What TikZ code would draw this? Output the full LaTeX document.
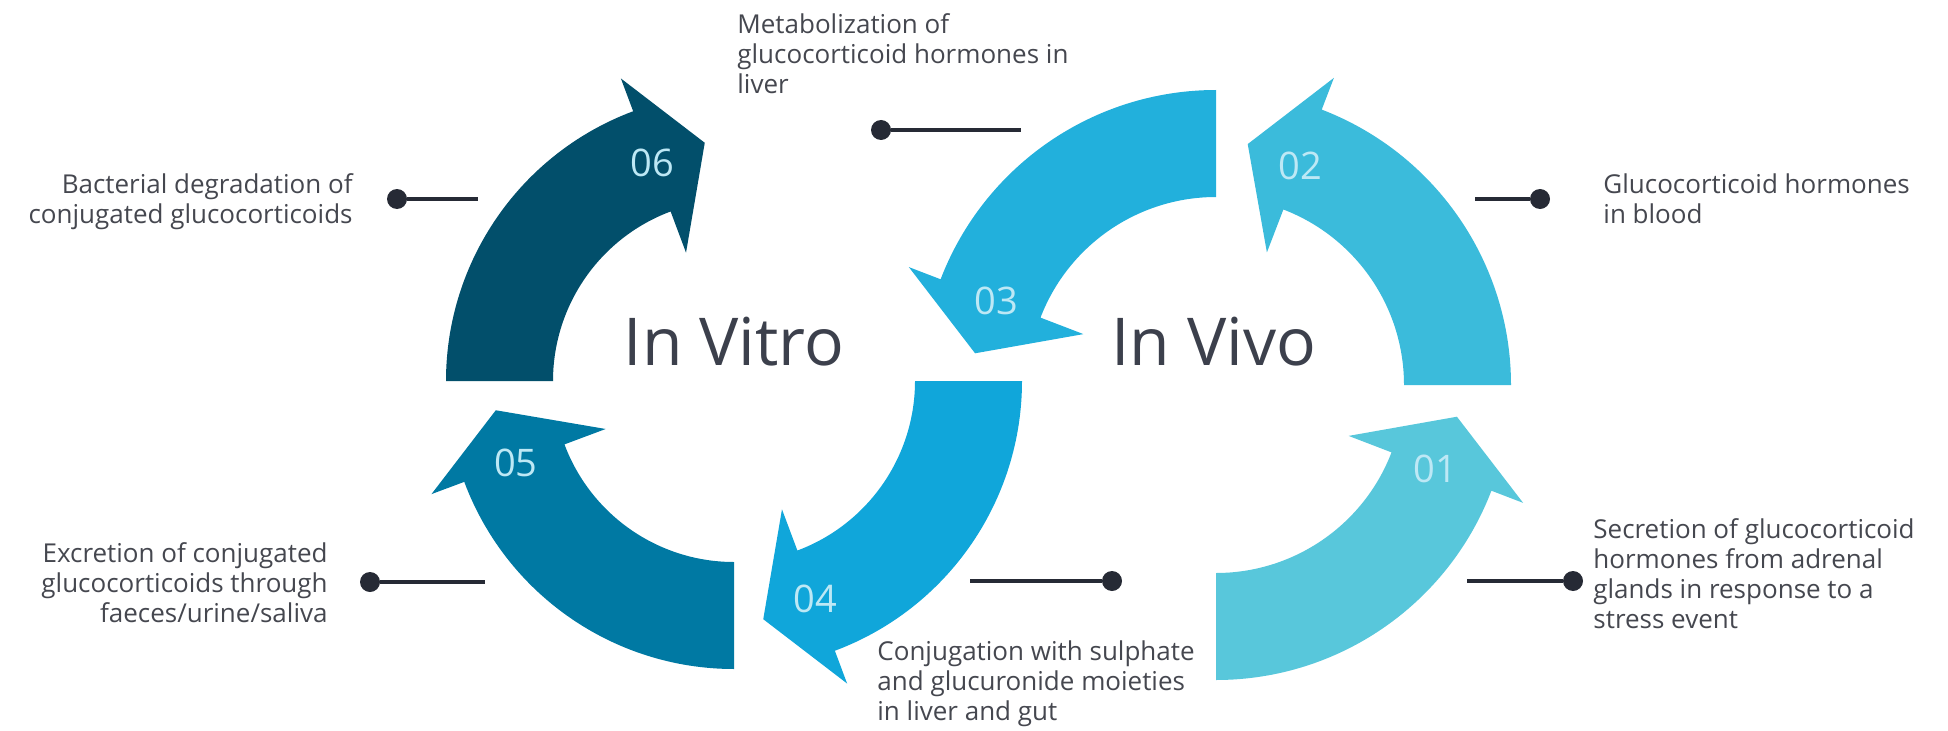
\documentclass[tikz,border=0pt]{standalone}
\usepackage{fontspec}
\setmainfont{Open Sans}

\definecolor{vitrosix}{HTML}{024F6B}
\definecolor{vitrofive}{HTML}{0079A3}
\definecolor{vitrofour}{HTML}{10A6DA}
\definecolor{vivothree}{HTML}{22B0DC}
\definecolor{vivotwo}{HTML}{3BBBDB}
\definecolor{vivoone}{HTML}{58C7DB}
\definecolor{numblue}{HTML}{BDE8F5}
\definecolor{titlegray}{HTML}{3C404C}
\definecolor{textgray}{HTML}{45474F}
\definecolor{dotgray}{HTML}{262A35}

\tikzset{
	numlabel/.style = {text = numblue, font = \fontsize{19}{19}\selectfont},
	bigtitle/.style = {text = titlegray, font = \fontsize{33}{40}\selectfont},
	caption/.style = {text = textgray, font = \fontsize{13}{15}\selectfont, inner sep = 0pt},
	knob/.style = {circle, fill = dotgray, inner sep = 0pt, minimum size = 10pt},
	stem/.style = {draw = dotgray, line width = 1.6pt}
}

\begin{document}
\begin{tikzpicture}[x = 0.5pt, y = 0.5pt]

	% Frame

	\useasboundingbox (0, 0) rectangle (1948, 730);

	% In Vitro cycle (clockwise)

	\begin{scope}[shift = {(734, 349)}]
		\foreach \aStart/\col/\lbl in {180/vitrosix/06, 270/vitrofive/05, 0/vitrofour/04}
		{
			\pgfmathsetmacro{\aEnd}{\aStart - 69.5}
			\pgfmathsetmacro{\aTip}{\aEnd - 13.5}
			\fill [\col] (\aStart:288) arc [start angle = \aStart, end angle = \aEnd, radius = 288]
				-- (\aEnd:323) -- (\aTip:240) -- (\aEnd:137) -- (\aEnd:181)
				arc [start angle = \aEnd, end angle = \aStart, radius = 181] -- cycle;
			\node [numlabel] (n\lbl) at (\aEnd:233) {\lbl};
		}
		\node [bigtitle] (vitro) at (0, 39) {In Vitro};
	\end{scope}

	% In Vivo cycle (counterclockwise)

	\begin{scope}[shift = {(1216, 345)}]
		\foreach \aStart/\col/\lbl in {270/vivoone/01, 0/vivotwo/02, 90/vivothree/03}
		{
			\pgfmathsetmacro{\aEnd}{\aStart + 69}
			\pgfmathsetmacro{\aTip}{\aEnd + 13.5}
			\fill [\col] (\aStart:295) arc [start angle = \aStart, end angle = \aEnd, radius = 295]
				-- (\aEnd:329) -- (\aTip:243) -- (\aEnd:142) -- (\aEnd:188)
				arc [start angle = \aEnd, end angle = \aStart, radius = 188] -- cycle;
			\node [numlabel] (n\lbl) at (\aEnd:235) {\lbl};
		}
		\node [bigtitle] (vivo) at (-2, 43) {In Vivo};
	\end{scope}

	% Pointers

	\node [knob] (kMet) at (881, 600) {};
	\coordinate (eMet) at (1021, 600);
	\draw [stem] (kMet) -- (eMet);

	\node [knob] (kBac) at (397, 531) {};
	\coordinate (eBac) at (478, 531);
	\draw [stem] (kBac) -- (eBac);

	\node [knob] (kGlu) at (1540, 531) {};
	\coordinate (eGlu) at (1475, 531);
	\draw [stem] (kGlu) -- (eGlu);

	\node [knob] (kExc) at (370, 148) {};
	\coordinate (eExc) at (485, 148);
	\draw [stem] (kExc) -- (eExc);

	\node [knob] (kCon) at (1112, 149) {};
	\coordinate (eCon) at (970, 149);
	\draw [stem] (kCon) -- (eCon);

	\node [knob] (kSec) at (1573, 149) {};
	\coordinate (eSec) at (1467, 149);
	\draw [stem] (kSec) -- (eSec);

	% Captions

	\node [caption, anchor = north west, align = left] (tMet) at (737, 717)
		{Metabolization of\\glucocorticoid hormones in\\liver};
	\node [caption, anchor = north east, align = right] (tBac) at (353, 557)
		{Bacterial degradation of\\conjugated glucocorticoids};
	\node [caption, anchor = north west, align = left] (tGlu) at (1603, 557)
		{Glucocorticoid hormones\\in blood};
	\node [caption, anchor = north east, align = right] (tExc) at (328, 188)
		{Excretion of conjugated\\glucocorticoids through\\faeces/urine/saliva};
	\node [caption, anchor = north west, align = left] (tCon) at (877, 90)
		{Conjugation with sulphate\\and glucuronide moieties\\in liver and gut};
	\node [caption, anchor = north west, align = left] (tSec) at (1593, 212)
		{Secretion of glucocorticoid\\hormones from adrenal\\glands in response to a\\stress event};

\end{tikzpicture}
\end{document}
